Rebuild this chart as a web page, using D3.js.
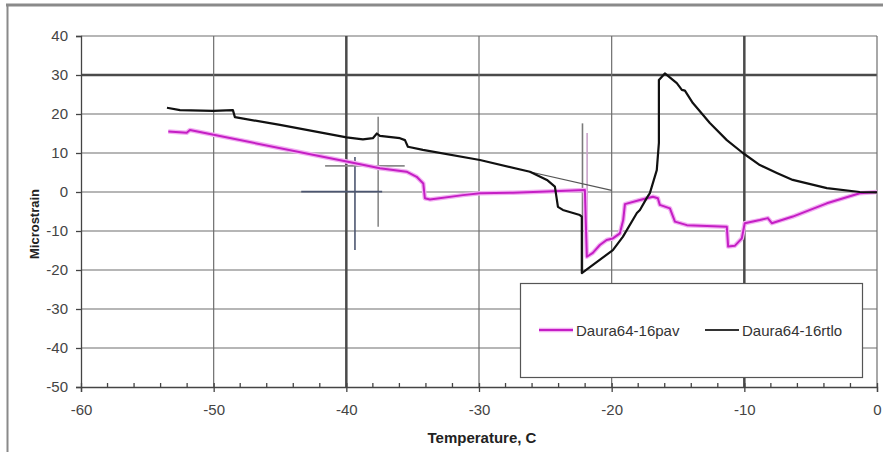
<!DOCTYPE html>
<html><head><meta charset="utf-8">
<script src="https://cdn.jsdelivr.net/npm/d3@7"></script>
<style>
html,body{margin:0;padding:0;background:#fff;}
svg{display:block;font-family:"Liberation Sans",Arial,sans-serif;}
</style></head>
<body><svg id="c" width="883" height="452"></svg>
<script>
// ---- data ----
const xTicks = [-60,-50,-40,-30,-20,-10,0];
const yTicks = [40,30,20,10,0,-10,-20,-30,-40,-50];
const seriesNames = ["Daura64-16pav","Daura64-16rtlo"];

const pavTemp = [-53.42,-52.03,-51.79,-39.98,-37.47,-35.46,-34.70,-34.20,-34.08,-33.70,-31.21,-29.93,-27.45,-24.88,-22.02,-21.87,-21.42,-20.89,-20.38,-19.91,-19.38,-19.13,-19.00,-17.87,-16.89,-16.52,-16.37,-15.61,-15.23,-14.33,-11.32,-11.22,-10.72,-10.19,-9.97,-8.83,-8.23,-7.93,-6.35,-3.78,-1.30,0.0];
const pavStrain = [15.5,15.2,15.9,7.8,6.1,5.2,3.9,2.2,-1.6,-1.9,-0.8,-0.3,-0.2,0.1,0.5,-16.6,-15.6,-13.6,-12.3,-11.9,-10.6,-7.2,-3.1,-2.05,-1.2,-1.6,-3.3,-4.2,-7.6,-8.5,-8.9,-14.0,-13.8,-11.9,-8.0,-7.2,-6.7,-8.0,-6.3,-2.9,-0.3,0.0];

const rtloTemp = [-53.52,-52.54,-50.05,-48.55,-48.40,-45.00,-39.98,-38.75,-38.00,-37.70,-37.47,-35.96,-35.58,-35.36,-34.23,-29.93,-26.16,-24.88,-24.28,-24.05,-23.68,-22.40,-22.25,-22.25,-19.91,-19.16,-18.10,-17.87,-17.35,-17.12,-16.60,-16.44,-16.44,-15.99,-15.09,-14.71,-14.48,-13.88,-12.60,-11.32,-10.11,-8.83,-7.55,-6.35,-3.78,-1.30,0.0];
const rtloStrain = [21.6,21.0,20.8,21.0,19.2,17.2,14.0,13.5,13.8,15.0,14.4,13.8,13.3,11.6,10.8,8.2,5.2,3.1,1.4,-3.8,-4.6,-5.9,-6.3,-20.8,-14.9,-11.5,-5.4,-4.6,-1.5,-0.3,5.6,12.6,28.7,30.4,27.9,26.2,26.0,22.8,17.7,13.3,10.0,6.9,4.9,3.1,1.0,0.0,-0.1];

// thin straight reference segment continuing the rtlo trend
const trendTemp = [-26.2,-20.0];
const trendStrain = [5.2,0.4];

// crosshair / marker segments (temperature, strain pairs)
const markT1 = [-39.35,-37.6,-43.4,-41.6,-22.2,-21.85];
const markS1 = [9.0,19.3,0.1,6.7,17.6,15.1];
const markT2 = [-39.35,-37.6,-37.3,-35.6,-22.2,-21.85];
const markS2 = [-14.9,-8.9,0.1,6.7,-20.8,-16.6];
const markColors = ["#4c5670","#8a8a8a","#4c5670","#8a8a8a","#7a7a7a","#c9a2c9"];

// ---- drawing ----
const svg = d3.select("#c");
const x = d3.scaleLinear().domain([-60,0]).range([81,877]);
const y = d3.scaleLinear().domain([-50,40]).range([387,36]);
const fmt = d => String(d);

// frame
svg.append("line").attr("x1",6).attr("x2",883).attr("y1",5).attr("y2",5).attr("stroke","#8a8a8a").attr("stroke-width",3);
svg.append("line").attr("x1",7.5).attr("x2",7.5).attr("y1",4).attr("y2",452).attr("stroke","#8a8a8a").attr("stroke-width",2);

// gridlines
const thickY = new Set([30]), thickX = new Set([-40,-10]);
const g = svg.append("g");
yTicks.filter(v=>v>-50).forEach(v=>{
  g.append("line").attr("x1",x(-60)).attr("x2",x(0)).attr("y1",y(v)).attr("y2",y(v))
   .attr("stroke",thickY.has(v)?"#4a4a4a":"#6e6e6e").attr("stroke-width",thickY.has(v)?2.5:1.2);
});
xTicks.filter(v=>v>-60).forEach(v=>{
  g.append("line").attr("x1",x(v)).attr("x2",x(v)).attr("y1",y(40)).attr("y2",y(-50))
   .attr("stroke",thickX.has(v)?"#4a4a4a":"#6e6e6e").attr("stroke-width",thickX.has(v)?2.5:1.2);
});

// axes
const yAxis = d3.axisLeft(y).tickValues(yTicks).tickSize(5).tickPadding(8).tickFormat(fmt);
const ya = svg.append("g").attr("transform",`translate(${x(-60)},0)`).call(yAxis);
ya.select(".domain").attr("stroke","#444").attr("stroke-width",1.3);
ya.selectAll(".tick line").attr("stroke","#444").attr("stroke-width",1.3);
ya.selectAll("text").attr("font-size",15).attr("fill","#444").attr("font-family","Liberation Sans, Arial");

const minor = d3.range(-58,0,2).filter(v=>v%10!==0);
svg.append("g").selectAll("line").data(minor).join("line")
  .attr("x1",d=>x(d)).attr("x2",d=>x(d)).attr("y1",y(-50)-4).attr("y2",y(-50))
  .attr("stroke","#444").attr("stroke-width",1.3);
const xAxis = d3.axisBottom(x).tickValues(xTicks).tickSize(5).tickPadding(12).tickFormat(fmt);
const xa = svg.append("g").attr("transform",`translate(0,${y(-50)})`).call(xAxis);
xa.select(".domain").attr("stroke","#444").attr("stroke-width",1.3);
xa.selectAll(".tick line").attr("stroke","#444").attr("stroke-width",1.3).attr("y1",-4);
xa.selectAll("text").attr("font-size",15).attr("fill","#444").attr("font-family","Liberation Sans, Arial");

// axis titles
svg.append("text").attr("x",482).attr("y",443).attr("text-anchor","middle")
  .attr("font-size",15).attr("font-weight","bold").attr("fill","#222").text("Temperature, C");
svg.append("text").attr("transform","translate(39,224) rotate(-90)").attr("text-anchor","middle")
  .attr("font-size",13).attr("font-weight","bold").attr("fill","#222").text("Microstrain");

// marker segments
svg.append("g").selectAll("line").data(markT1.map((t,i)=>i)).join("line")
  .attr("x1",i=>x(markT1[i])).attr("y1",i=>y(markS1[i]))
  .attr("x2",i=>x(markT2[i])).attr("y2",i=>y(markS2[i]))
  .attr("stroke",i=>markColors[i]).attr("stroke-width",1.6);

const line = d3.line().x(d=>x(d[0])).y(d=>y(d[1]));
const pav = pavTemp.map((t,i)=>[t,pavStrain[i]]);
const rtlo = rtloTemp.map((t,i)=>[t,rtloStrain[i]]);
const trend = trendTemp.map((t,i)=>[t,trendStrain[i]]);

svg.append("path").datum(trend).attr("d",line).attr("fill","none").attr("stroke","#555").attr("stroke-width",1.2);
svg.append("path").datum(pav).attr("d",line).attr("fill","none").attr("stroke","#f2b0f2").attr("stroke-width",4.5).attr("stroke-linejoin","round");
svg.append("path").datum(pav).attr("d",line).attr("fill","none").attr("stroke","#c41ec4").attr("stroke-width",2).attr("stroke-linejoin","round");
svg.append("path").datum(rtlo).attr("d",line).attr("fill","none").attr("stroke","#111").attr("stroke-width",2.2).attr("stroke-linejoin","round");

// legend
const lg = svg.append("g");
lg.append("rect").attr("x",520.5).attr("y",283.5).attr("width",342).attr("height",94)
  .attr("fill","#fff").attr("stroke","#555").attr("stroke-width",1.2);
const legColors = ["#c41ec4","#333"];
const legX = [539,705];
seriesNames.forEach((n,i)=>{
  if(i===0) lg.append("line").attr("x1",legX[i]).attr("x2",legX[i]+34).attr("y1",330).attr("y2",330).attr("stroke","#f2b0f2").attr("stroke-width",4.5);
  lg.append("line").attr("x1",legX[i]).attr("x2",legX[i]+34).attr("y1",330).attr("y2",330).attr("stroke",legColors[i]).attr("stroke-width",2.2);
  lg.append("text").attr("x",legX[i]+37).attr("y",335.5).attr("font-size",15).attr("fill","#333").text(n);
});
</script></body></html>
